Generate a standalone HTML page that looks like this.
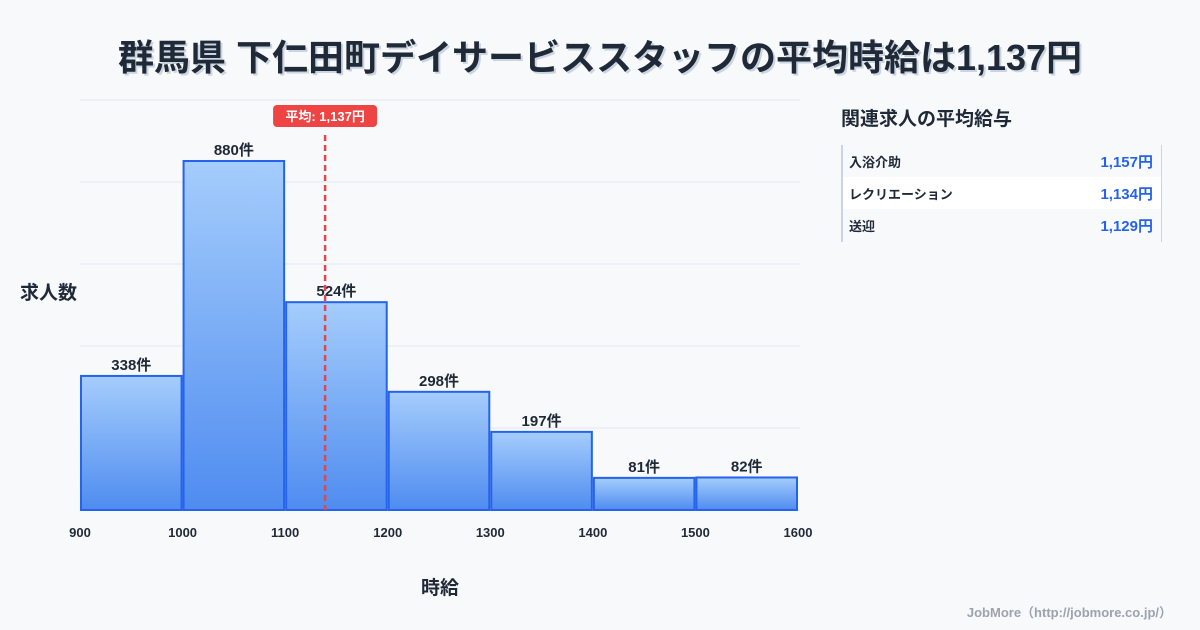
<!DOCTYPE html>
<html><head><meta charset="utf-8"><style>
body{margin:0;width:1200px;height:630px;background:#f8f9fb;font-family:"Liberation Sans","Noto Sans CJK JP",sans-serif;overflow:hidden;position:relative;color:#1f2937}
.t{position:absolute;left:0;width:1200px;top:29px;text-align:center;font-size:36px;font-weight:bold;color:#1f2937;text-shadow:2px 2px 0 #cbd5e1}
.side{position:absolute;left:841px;top:104px;font-size:19px;font-weight:bold}
.tbl{position:absolute;left:841px;top:145px;width:318px;height:97px;border-left:2px solid #cbd5e1;border-right:1px solid #cbd5e1}
.row{height:32px;display:flex;justify-content:space-between;align-items:center;padding:0 8px 0 6px;font-size:13px;font-weight:bold}
.row span:last-child{color:#2563eb;font-size:15px}
.foot{position:absolute;right:28px;top:602px;font-size:13px;color:#9ca3af;font-weight:bold}
</style></head><body>
<div class="t">群馬県 下仁田町デイサービススタッフの平均時給は1,137円</div>
<svg id="c" width="820" height="630" style="position:absolute;left:0;top:0">
<defs><linearGradient id="g" x1="0" y1="0" x2="0" y2="1"><stop offset="0" stop-color="#a5cdfc"/><stop offset="1" stop-color="#4f8cf0"/></linearGradient></defs>
</svg>
<div class="side">関連求人の平均給与</div>
<div class="tbl">
<div class="row"><span>入浴介助</span><span>1,157円</span></div>
<div class="row" style="background:#fff"><span>レクリエーション</span><span>1,134円</span></div>
<div class="row"><span>送迎</span><span>1,129円</span></div>
</div>
<div class="foot">JobMore（http://jobmore.co.jp/）</div>
<script>
const binStarts=[900,1000,1100,1200,1300,1400,1500];
const counts=[338,880,524,298,197,81,82];
const xTicks=[900,1000,1100,1200,1300,1400,1500,1600];
const avg=1137;
const svg=document.getElementById('c');const NS='http://www.w3.org/2000/svg';
const X=v=>80+(v-900)*(718/700);
const Y=v=>510-v*0.3966;
function mk(t,a,txt){const e=document.createElementNS(NS,t);for(const k in a)e.setAttribute(k,a[k]);if(txt!=null)e.textContent=txt;svg.appendChild(e);return e;}
for(let i=0;i<6;i++){const l=mk('line',{x1:80,x2:800,y1:100+i*82,y2:100+i*82,stroke:'#e2e8f0'});

}
binStarts.forEach((b,i)=>{const x0=X(b)+1,x1=X(b+100)-1,y=Y(counts[i]);
const r=mk('rect',{x:x0,y:y,width:x1-x0,height:510-y,fill:'url(#g)',stroke:'#2563eb','stroke-width':2});


const t=mk('text',{x:(x0+x1)/2,y:y-6,'text-anchor':'middle','font-size':15,'font-weight':'bold',fill:'#1f2937'},counts[i]+'件');

});
xTicks.forEach(v=>{const t=mk('text',{x:X(v),y:537,'text-anchor':'middle','font-size':13,'font-weight':'bold',fill:'#1f2937'},v);

});
const ax=X(avg)+2;
const al=mk('line',{x1:ax,x2:ax,y1:135,y2:510,stroke:'#e0474c','stroke-width':2.5,'stroke-dasharray':'6,4'});


const ab=mk('rect',{x:ax-52,y:105,width:104,height:22,rx:4,fill:'#ef4444'});


const at=mk('text',{x:ax,y:121,'text-anchor':'middle','font-size':13,'font-weight':'bold',fill:'#fff'},'平均: 1,137円');


const yt=mk('text',{x:20,y:299,'font-size':19,'font-weight':'bold',fill:'#1f2937'},'求人数');


const xt=mk('text',{x:440,y:594,'text-anchor':'middle','font-size':19,'font-weight':'bold',fill:'#1f2937'},'時給');


</script>
</body></html>
